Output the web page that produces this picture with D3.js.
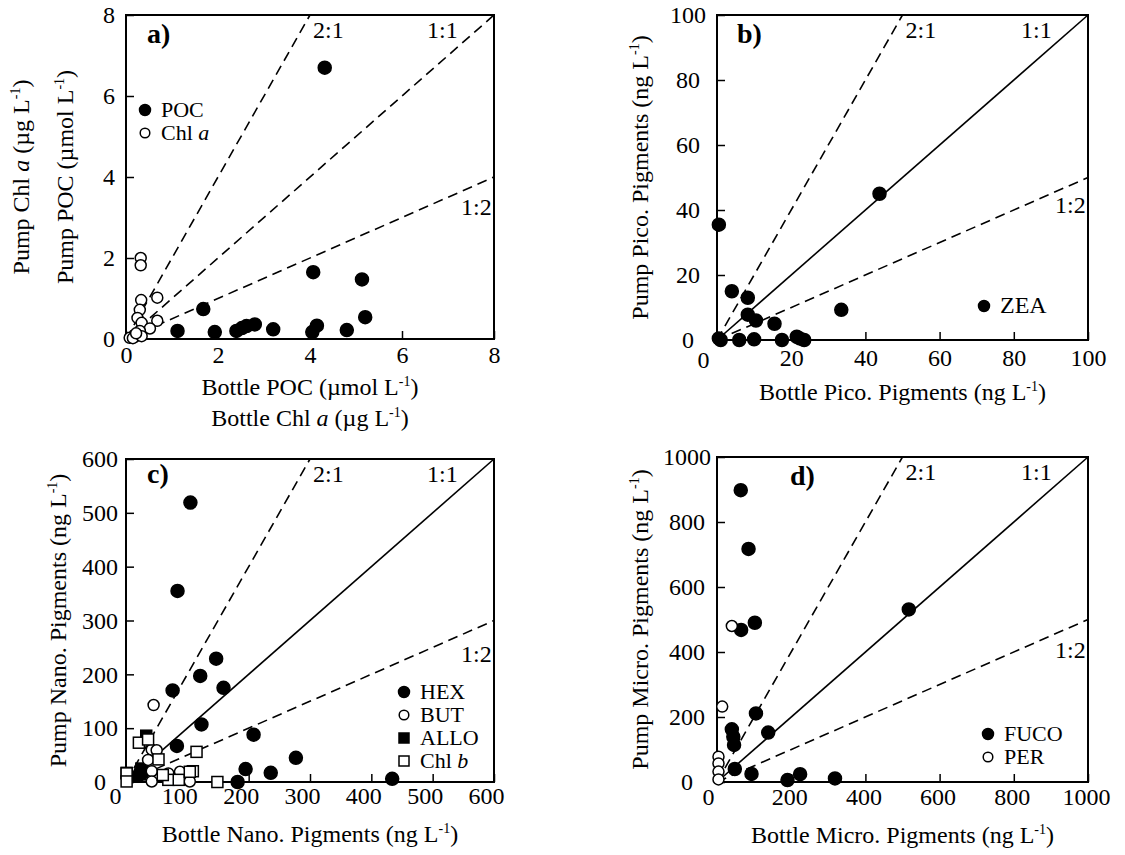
<!DOCTYPE html>
<html><head><meta charset="utf-8">
<script src="https://cdn.jsdelivr.net/npm/d3@7"></script>
<style>
body{margin:0;background:#fff}
svg{display:block}
svg text, svg tspan{font-family:"Liberation Serif","Times New Roman",serif !important;fill:#000}
</style>
</head><body>
<svg id="chart" width="1125" height="855"></svg>
<script>
// ---------- data ----------
const ticksA = [0, 2, 4, 6, 8];
const ticksB = [0, 20, 40, 60, 80, 100];
const ticksC = [0, 100, 200, 300, 400, 500, 600];
const ticksD = [0, 200, 400, 600, 800, 1000];
const ratioValues = [2, 1, 0.5];
const ratioLabels = ["2:1", "1:1", "1:2"];

// panel a: [bottle, pump]
const pocA = [[1.12,0.2],[1.68,0.74],[1.93,0.17],[2.4,0.2],[2.52,0.27],[2.62,0.32],[2.8,0.36],[3.2,0.24],[4.05,0.17],[4.15,0.33],[4.07,1.65],[4.32,6.7],[4.8,0.22],[5.13,1.47],[5.2,0.54]];
const chlaA = [[0.32,2.0],[0.32,1.82],[0.68,1.02],[0.33,0.96],[0.3,0.72],[0.25,0.52],[0.34,0.4],[0.68,0.45],[0.52,0.26],[0.3,0.2],[0.2,0.06],[0.08,0.03],[0.15,0.02],[0.34,0.07],[0.22,0.14]];
// panel b
const zeaB = [[0.5,35.5],[43.8,45],[4,15],[8.3,13],[8.3,7.8],[10.5,6],[15.5,5],[33.5,9.3],[0.5,0.5],[1,0],[6,0],[10,0.2],[17.5,0],[21.5,1],[22.3,0.5],[23.5,0]];
// panel c
const hexC = [[105,519],[84,355],[76,170],[121,197],[147,229],[159,175],[123,107],[83,67],[208,88],[277,45],[195,24],[236,17],[182,0],[434,6]];
const butC = [[45,143],[42,60],[50,59],[36,41],[42,20],[42,1],[88,19],[104,1],[69,16]];
const alloC = [[33,86],[25,25],[23,14],[18,10],[1,17],[26,18]];
const chlbC = [[21,73],[36,79],[53,42],[115,56],[109,20],[69,4],[86,4],[149,0],[1,16],[1,1],[60,13],[104,19]];
// panel d
const fucoD = [[64,898],[85,717],[517,531],[102,490],[65,468],[105,211],[138,152],[40,162],[44,139],[46,114],[48,40],[93,25],[190,6],[224,24],[318,11]];
const perD = [[40,480],[14,232],[4,78],[4,57],[4,32],[4,8]];

// ---------- drawing ----------
const FONT = '"Liberation Serif","Times New Roman",serif';
const svg = d3.select("#chart");

function txt(sel) { return sel.style("font-family", FONT); }

function rich(sel, parts) {
  let prevSup = false;
  parts.forEach(p => {
    const ts = sel.append("tspan").text(p.t);
    if (p.i) ts.attr("font-style", "italic");
    if (p.sup) { ts.attr("font-size", 14).attr("dy", -9); }
    else if (prevSup) { ts.attr("dy", 9); }
    prevSup = !!p.sup;
  });
}

const styles = {
  filledCircle: {shape: "circle", fill: "#000", r: 6.5},
  openCircle: {shape: "circle", fill: "#fff", r: 5.5},
  filledSquare: {shape: "square", fill: "#000", s: 11},
  openSquare: {shape: "square", fill: "#fff", s: 11}
};

function drawMarkers(g, data, x, y, st) {
  if (st.shape === "circle") {
    g.selectAll(null).data(data).enter().append("circle")
      .attr("cx", d => x(d[0])).attr("cy", d => y(d[1]))
      .attr("r", st.r).attr("fill", st.fill)
      .attr("stroke", "#000").attr("stroke-width", 1.5);
  } else {
    g.selectAll(null).data(data).enter().append("rect")
      .attr("x", d => x(d[0]) - st.s / 2).attr("y", d => y(d[1]) - st.s / 2)
      .attr("width", st.s).attr("height", st.s).attr("fill", st.fill)
      .attr("stroke", "#000").attr("stroke-width", 1.5);
  }
}

function legendMarker(g, cx, cy, st) {
  if (st.shape === "circle") {
    g.append("circle").attr("cx", cx).attr("cy", cy).attr("r", st.fill === "#000" ? 5.5 : 4.8)
      .attr("fill", st.fill).attr("stroke", "#000").attr("stroke-width", 1.5);
  } else {
    g.append("rect").attr("x", cx - 5).attr("y", cy - 5).attr("width", 10).attr("height", 10)
      .attr("fill", st.fill).attr("stroke", "#000").attr("stroke-width", 1.5);
  }
}

function panel(cfg) {
  const g = svg.append("g");
  const x = d3.scaleLinear().domain([0, cfg.max]).range([cfg.l, cfg.r]);
  const y = d3.scaleLinear().domain([0, cfg.max]).range([cfg.b, cfg.t]);

  // ratio lines
  ratioValues.forEach(k => {
    const xe = Math.min(cfg.max, cfg.max / k);
    const ye = k * xe;
    g.append("line")
      .attr("x1", x(0)).attr("y1", y(0)).attr("x2", x(xe)).attr("y2", y(ye))
      .attr("stroke", "#000").attr("stroke-width", 1.6)
      .attr("stroke-dasharray", (k === 1 && cfg.solid1) ? null : "10,6");
  });
  // ratio labels
  const W = cfg.r - cfg.l;
  txt(g.append("text")).attr("x", cfg.l + W / 2 + 3).attr("y", cfg.t + 23).attr("font-size", 24).text(ratioLabels[0]);
  txt(g.append("text")).attr("x", cfg.r - 67).attr("y", cfg.t + 23).attr("font-size", 24).text(ratioLabels[1]);
  txt(g.append("text")).attr("x", cfg.r - 33).attr("y", cfg.lab12y).attr("font-size", 24).text(ratioLabels[2]);

  // axes
  const xa = d3.axisBottom(x).tickValues(cfg.ticks).tickFormat(d3.format("d"))
    .tickSizeInner(-8).tickSizeOuter(0).tickPadding(cfg.xpad);
  const gx = g.append("g").attr("transform", `translate(0,${cfg.b})`).call(xa);
  gx.attr("font-family", null).attr("font-size", null);
  gx.select(".domain").remove();
  gx.selectAll(".tick line").attr("stroke", "#000").attr("stroke-width", 1.5);
  txt(gx.selectAll(".tick text")).attr("font-size", 24)
    .attr("x", d => d === 0 ? cfg.x0dx : cfg.xdx)
    .attr("dy", d => d === 0 ? `${0.71 + cfg.x0dy / 24}em` : "0.71em");

  const ya = d3.axisLeft(y).tickValues(cfg.ticks).tickFormat(d3.format("d"))
    .tickSizeInner(-8).tickSizeOuter(0).tickPadding(8);
  const gy = g.append("g").attr("transform", `translate(${cfg.l},0)`).call(ya);
  gy.attr("font-family", null).attr("font-size", null);
  gy.select(".domain").remove();
  gy.selectAll(".tick line").attr("stroke", "#000").attr("stroke-width", 1.5);
  txt(gy.selectAll(".tick text")).attr("font-size", 24).attr("text-anchor", "middle")
    .attr("x", cfg.ylabX - cfg.l);

  // frame
  g.append("rect").attr("x", cfg.l).attr("y", cfg.t).attr("width", cfg.r - cfg.l).attr("height", cfg.b - cfg.t)
    .attr("fill", "none").attr("stroke", "#000").attr("stroke-width", 2);

  // panel letter
  txt(g.append("text")).attr("x", cfg.letterX).attr("y", cfg.letterY).attr("font-size", 28)
    .attr("font-weight", "bold").text(cfg.letter);

  // markers
  cfg.series.forEach(s => drawMarkers(g, s.data, x, y, s.style));

  // legend
  cfg.legend.forEach((it, i) => {
    const cy = cfg.legY + i * cfg.legStep;
    legendMarker(g, cfg.legX, cy, it.style);
    rich(txt(g.append("text")).attr("x", cfg.legX + 16).attr("y", cy + 7).attr("font-size", cfg.legFont), it.label);
  });

  // axis titles
  cfg.xTitles.forEach(tt => {
    rich(txt(g.append("text")).attr("x", (cfg.l + cfg.r) / 2).attr("y", tt.y).attr("text-anchor", "middle").attr("font-size", 24), tt.parts);
  });
  cfg.yTitles.forEach(tt => {
    rich(txt(g.append("text")).attr("transform", `translate(${tt.x},${(cfg.t + cfg.b) / 2}) rotate(-90)`)
      .attr("text-anchor", "middle").attr("font-size", 24), tt.parts);
  });
}

const unitNg = [{t: " (ng L"}, {t: "-1", sup: true}, {t: ")"}];

panel({
  l: 126, r: 494, t: 15, b: 339, max: 8, ticks: ticksA, solid1: false,
  xpad: 7, xdx: 0, x0dx: 0, x0dy: 0, ylabX: 109, lab12y: 215,
  letter: "a)", letterX: 147, letterY: 43,
  series: [{data: pocA, style: styles.filledCircle}, {data: chlaA, style: styles.openCircle}],
  legend: [{style: styles.filledCircle, label: [{t: "POC"}]},
           {style: styles.openCircle, label: [{t: "Chl "}, {t: "a", i: true}]}],
  legX: 145, legY: 110, legStep: 23, legFont: 22,
  xTitles: [{y: 395, parts: [{t: "Bottle POC (µmol L"}, {t: "-1", sup: true}, {t: ")"}]},
            {y: 426, parts: [{t: "Bottle Chl "}, {t: "a", i: true}, {t: " (µg L"}, {t: "-1", sup: true}, {t: ")"}]}],
  yTitles: [{x: 29, parts: [{t: "Pump Chl "}, {t: "a", i: true}, {t: " (µg L"}, {t: "-1", sup: true}, {t: ")"}]},
            {x: 73, parts: [{t: "Pump POC (µmol L"}, {t: "-1", sup: true}, {t: ")"}]}]
});

panel({
  l: 717, r: 1088, t: 15, b: 340, max: 100, ticks: ticksB, solid1: true,
  xpad: 9, xdx: 0, x0dx: -14, x0dy: 2, ylabX: 688, lab12y: 213,
  letter: "b)", letterX: 737, letterY: 43,
  series: [{data: zeaB, style: styles.filledCircle}],
  legend: [{style: styles.filledCircle, label: [{t: "ZEA"}]}],
  legX: 984, legY: 306, legStep: 22, legFont: 24,
  xTitles: [{y: 400, parts: [{t: "Bottle Pico. Pigments"}].concat(unitNg)}],
  yTitles: [{x: 648, parts: [{t: "Pump Pico. Pigments"}].concat(unitNg)}]
});

panel({
  l: 126, r: 494, t: 459, b: 782, max: 600, ticks: ticksC, solid1: true,
  xpad: 5, xdx: -8, x0dx: -11, x0dy: 0, ylabX: 100, lab12y: 662,
  letter: "c)", letterX: 147, letterY: 483,
  series: [{data: hexC, style: styles.filledCircle}, {data: alloC, style: styles.filledSquare},
           {data: butC, style: styles.openCircle}, {data: chlbC, style: styles.openSquare}],
  legend: [{style: styles.filledCircle, label: [{t: "HEX"}]},
           {style: styles.openCircle, label: [{t: "BUT"}]},
           {style: styles.filledSquare, label: [{t: "ALLO"}]},
           {style: styles.openSquare, label: [{t: "Chl "}, {t: "b", i: true}]}],
  legX: 404, legY: 692, legStep: 23, legFont: 22,
  xTitles: [{y: 842, parts: [{t: "Bottle Nano. Pigments"}].concat(unitNg)}],
  yTitles: [{x: 66, parts: [{t: "Pump Nano. Pigments"}].concat(unitNg)}]
});

panel({
  l: 717, r: 1088, t: 457, b: 782, max: 1000, ticks: ticksD, solid1: true,
  xpad: 6, xdx: -2, x0dx: -9, x0dy: 0, ylabX: 687, lab12y: 658,
  letter: "d)", letterX: 790, letterY: 485,
  series: [{data: fucoD, style: styles.filledCircle}, {data: perD, style: styles.openCircle}],
  legend: [{style: styles.filledCircle, label: [{t: "FUCO"}]},
           {style: styles.openCircle, label: [{t: "PER"}]}],
  legX: 988, legY: 734, legStep: 23, legFont: 22,
  xTitles: [{y: 843, parts: [{t: "Bottle Micro. Pigments"}].concat(unitNg)}],
  yTitles: [{x: 648, parts: [{t: "Pump Micro. Pigments"}].concat(unitNg)}]
});
</script>
</body></html>
